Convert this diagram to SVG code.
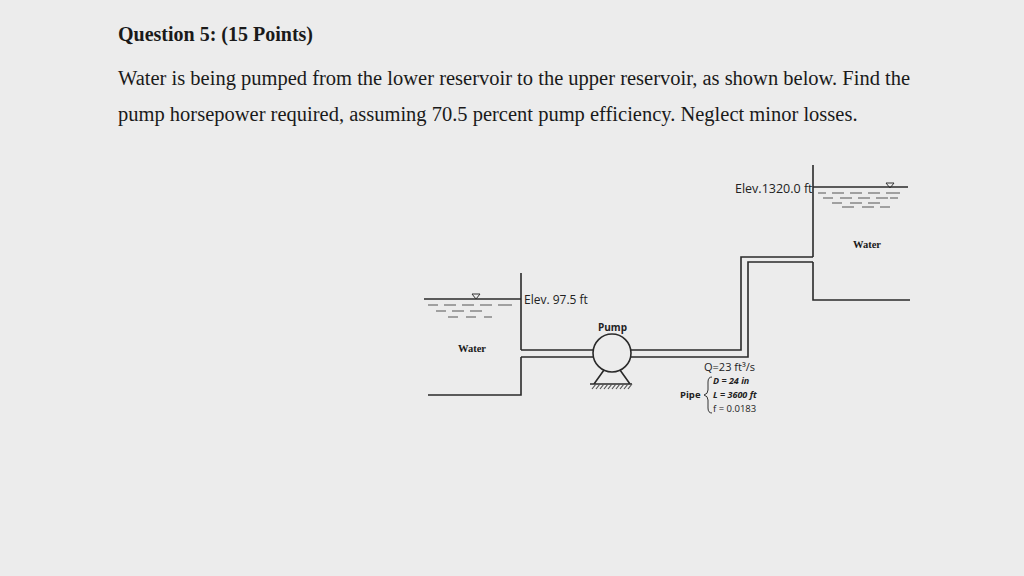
<svg xmlns="http://www.w3.org/2000/svg" width="1024" height="576" viewBox="0 0 1024 576">
<style>
.l{stroke:#2a2a2a;stroke-width:1.6;fill:none}
.d{stroke:#555;stroke-width:1.2}
.t{font-family:"Liberation Serif",serif;fill:#1a1a1a}
.s{font-family:"Open Sans","Liberation Sans",sans-serif;fill:#222}
</style>
<rect width="1024" height="576" fill="#ececec"/>
<text class="t" x="118" y="41" font-size="20" font-weight="bold">Question 5: (15 Points)</text>
<text class="t" x="118" y="85" font-size="20.5">Water is being pumped from the lower reservoir to the upper reservoir, as shown below. Find the</text>
<text class="t" x="118" y="121" font-size="20.5">pump horsepower required, assuming 70.5 percent pump efficiency. Neglect minor losses.</text>
<g id="lower-reservoir">
<path class="l" d="M424 299H521M521 273V350M521 357V395H428"/>
<path class="d" d="M428 305h10M444 305h12M462 305h12M480 305h12M498 305h14M436 311h10M452 311h12M470 311h12M448 317h10M466 317h10M484 317h8"/>
<path d="M472 294h8l-4 5z" fill="none" stroke="#333"/>
<text class="t" x="458" y="352" font-size="10.5" font-weight="bold">Water</text>
<text class="s" x="524" y="304" font-size="12">Elev. 97.5 ft</text>
</g>
<g id="upper-reservoir">
<path class="l" d="M813 165V257M813 262V300H910M813 187H908"/>
<path class="d" d="M818 193h8M832 193h12M850 193h12M868 193h12M886 193h14M823 198h10M840 198h12M858 198h12M876 198h12M890 198h8M832 203h10M850 203h12M868 203h12M842 207h12M862 207h12M880 207h10"/>
<path d="M886 183h8l-4 5z" fill="none" stroke="#333"/>
<text class="t" x="853" y="248" font-size="10.5" font-weight="bold">Water</text>
<text class="s" x="735" y="193" font-size="12.5">Elev.1320.0 ft</text>
</g>
<g id="pump">
<circle class="l" cx="612" cy="353" r="19"/>
<path class="l" d="M604 370L594 384M620 370L630 384M590 384H632"/>
<path class="d" stroke-width="0.8" d="M592 389l4-5M596 389l4-5M600 389l4-5M604 389l4-5M608 389l4-5M612 389l4-5M616 389l4-5M620 389l4-5M624 389l4-5M628 389l4-5"/>
<text class="s" x="598" y="331" font-size="10" font-weight="bold">Pump</text>
</g>
<g id="connectors">
<path class="l" d="M521 350H593M631 350H741V257H813"/>
<path class="l" d="M521 357H593M631 357H748V262H813"/>
</g>
<g id="pipe-label">
<text class="s" x="704" y="371" font-size="11">Q=23 ft³/s</text>
<text class="s" x="713" y="384" font-size="9" font-weight="bold" font-style="italic">D = 24 in</text>
<text class="s" x="713" y="398" font-size="9" font-weight="bold" font-style="italic">L = 3600 ft</text>
<text class="s" x="713" y="412" font-size="9.5">f = 0.0183</text>
<text class="s" x="680" y="398" font-size="9.5" font-weight="bold">Pipe</text>
<path d="M712 377q-4 0-4 5v8q0 4-4 5q4 1 4 5v8q0 5 4 5" stroke="#333" fill="none"/>
</g>
</svg>
